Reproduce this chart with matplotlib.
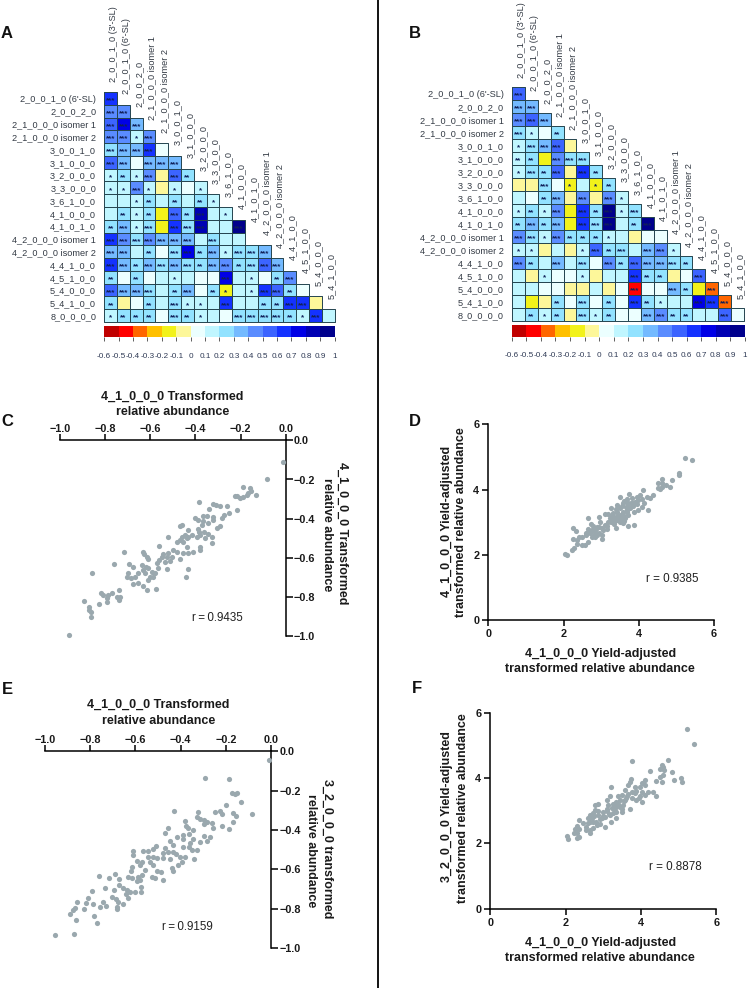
import numpy as np
import matplotlib
matplotlib.use("Agg")
import matplotlib.pyplot as plt
from matplotlib.colors import ListedColormap, BoundaryNorm

plt.rcParams['font.family'] = ['Liberation Sans', 'DejaVu Sans']

W, H = 749, 988

col_labels = ["2_0_0_1_0 (3'-SL)", "2_0_0_1_0 (6'-SL)", "2_0_0_2_0", "2_1_0_0_0 isomer 1", "2_1_0_0_0 isomer 2",
              "3_0_0_1_0", "3_1_0_0_0", "3_2_0_0_0", "3_3_0_0_0", "3_6_1_0_0", "4_1_0_0_0", "4_1_0_1_0",
              "4_2_0_0_0 isomer 1", "4_2_0_0_0 isomer 2", "4_4_1_0_0", "4_5_1_0_0", "5_4_0_0_0", "5_4_1_0_0"]
row_labels = ["2_0_0_1_0 (6'-SL)", "2_0_0_2_0", "2_1_0_0_0 isomer 1", "2_1_0_0_0 isomer 2", "3_0_0_1_0", "3_1_0_0_0",
              "3_2_0_0_0", "3_3_0_0_0", "3_6_1_0_0", "4_1_0_0_0", "4_1_0_1_0", "4_2_0_0_0 isomer 1",
              "4_2_0_0_0 isomer 2", "4_4_1_0_0", "4_5_1_0_0", "5_4_0_0_0", "5_4_1_0_0", "8_0_0_0_0"]
cbar_bounds = [-0.6, -0.5, -0.4, -0.3, -0.2, -0.1, 0, 0.1, 0.2, 0.3, 0.4, 0.5, 0.6, 0.7, 0.8, 0.9, 1]
cbar_labels = ['-0.6', '-0.5', '-0.4', '-0.3', '-0.2', '-0.1', '0', '0.1', '0.2', '0.3',
               '0.4', '0.5', '0.6', '0.7', '0.8', '0.9', '1']
cbar_colors = ['#c00000', '#ff0000', '#ff6600', '#ffc000', '#f2f21a', '#fdf79a', '#ecffff', '#c0f6ff', '#92e2ff',
               '#74baff', '#5a8cff', '#3c64ff', '#1432ff', '#0000e6', '#0000b4', '#00008c']

corr_a = [
    [.65],
    [.45, .45],
    [.55, .75, .35],
    [.4, .4, .15, .4],
    [.25, .35, .35, .65, .05],
    [.5, .35, .05, .35, .35, .3],
    [.15, .2, .15, .4, -.05, .5, .25],
    [.15, .15, .4, .15, -.05, .15, .05, .15],
    [.15, .1, .15, .25, .1, .25, .1, .25, .15],
    [.1, .25, .15, .2, -.15, .55, .25, .85, .15, .15],
    [.25, .35, .15, .2, -.15, .6, .25, .85, .15, .15, .9],
    [.6, .45, .2, .45, .35, .35, .35, .15, .25, .1, .15],
    [.35, .35, .15, .2, .05, .2, .7, .2, .35, .15, .2, .2, .35],
    [.6, .35, .2, .35, .25, .3, .25, .2, .3, .4, .2, .25, .5, .35],
    [.2, .05, .2, .05, .1, .15, .1, .05, .05, .7, .1, .15, .05, .2, .45],
    [.5, .35, .3, .25, .1, .2, .35, .05, .2, -.15, .1, .15, .6, .5, .2, .05],
    [.2, -.05, .05, .2, .1, .25, .15, .15, .1, .65, .1, .1, .2, .2, .65, .65, -.05],
    [.15, .2, .2, .2, .05, .25, .2, .15, .1, .05, .25, .25, .25, .25, .2, .15, .6, .1],
]
stars_a = [
    [3],
    [3, 3],
    [3, 3, 3],
    [3, 3, 1, 3],
    [3, 3, 3, 3, 0],
    [3, 3, 0, 3, 3, 3],
    [1, 2, 1, 3, 0, 3, 2],
    [1, 1, 3, 1, 0, 1, 0, 1],
    [0, 0, 1, 2, 0, 2, 0, 2, 1],
    [0, 2, 1, 2, 0, 3, 2, 3, 0, 1],
    [2, 3, 1, 3, 0, 3, 3, 3, 0, 0, 3],
    [3, 3, 3, 3, 3, 3, 3, 0, 3, 0, 0],
    [3, 3, 0, 2, 0, 3, 3, 2, 3, 1, 3, 3, 3],
    [3, 3, 2, 3, 3, 3, 3, 2, 3, 3, 2, 3, 3, 3],
    [2, 0, 2, 0, 0, 1, 0, 0, 0, 3, 0, 1, 0, 2, 3],
    [3, 3, 3, 3, 0, 2, 3, 0, 2, 1, 0, 1, 3, 3, 2, 0],
    [2, 0, 0, 2, 0, 3, 1, 1, 0, 3, 0, 0, 2, 2, 3, 3, 0],
    [1, 2, 2, 2, 0, 3, 2, 1, 0, 0, 3, 3, 3, 3, 2, 1, 3, 0],
]
corr_b = [
    [.55],
    [.35, .35],
    [.45, .55, .35],
    [.25, .15, .05, .25],
    [.15, .25, .35, .5, -.05],
    [.15, .2, -.15, .4, .2, .2],
    [.15, .25, .2, .5, -.05, .65, .25],
    [-.05, -.05, .25, .05, -.15, .15, -.15, .25],
    [.15, .05, .25, .3, -.05, .45, -.05, .45, .15],
    [.15, .2, .15, .4, -.15, .65, .25, .9, .15, .25],
    [.2, .35, .2, .35, -.15, .65, .25, .9, .15, .2, .95],
    [.4, .25, .15, .4, .25, .2, .2, .15, .1, -.05, .05, .05],
    [.15, .15, -.05, .15, -.05, .15, .5, .2, .25, .1, .3, .4, .15],
    [.4, .2, .1, .35, .1, .25, .05, .4, .2, .55, .35, .3, .25, .2],
    [.1, -.05, .15, .05, .05, .15, -.05, .15, .1, .65, .2, .2, -.05, .05, .5],
    [.15, .15, .05, .05, -.05, -.05, .15, -.05, .05, -.45, .05, .05, .35, .25, -.15, -.35],
    [.15, -.15, -.05, .2, .05, .25, .05, .2, .05, .65, .2, .15, .1, .1, .7, .65, -.35],
    [.1, .2, .15, .2, -.05, .25, .15, .2, .05, .05, .35, .4, .2, .2, .1, .1, .5, .05],
]
stars_b = [
    [3],
    [3, 3],
    [3, 3, 3],
    [3, 1, 0, 2],
    [1, 3, 3, 3, 0],
    [2, 2, 0, 3, 3, 3],
    [1, 3, 2, 3, 0, 3, 2],
    [0, 0, 3, 0, 1, 0, 1, 2],
    [0, 0, 2, 3, 0, 3, 0, 3, 1],
    [1, 2, 1, 3, 0, 3, 2, 3, 1, 3],
    [2, 3, 2, 3, 0, 3, 3, 3, 0, 2, 3],
    [3, 3, 1, 3, 2, 2, 2, 1, 0, 0, 0, 0],
    [1, 1, 0, 0, 0, 1, 3, 2, 3, 0, 3, 3, 1],
    [3, 2, 0, 3, 0, 3, 0, 3, 2, 3, 3, 3, 3, 2],
    [0, 0, 1, 0, 0, 1, 0, 0, 0, 3, 2, 2, 0, 0, 3],
    [0, 0, 0, 0, 0, 0, 0, 0, 0, 3, 0, 0, 3, 2, 0, 3],
    [0, 0, 0, 2, 0, 3, 0, 2, 0, 3, 2, 1, 0, 0, 3, 3, 3],
    [0, 2, 1, 2, 0, 3, 1, 2, 0, 0, 3, 3, 2, 2, 0, 0, 3, 0],
]

c_x = [-.01, -.084, -.188, -.158, -.155, -.133, -.165, -.173, -.188, -.202, -.225, -.214, -.383, -.323, -.309, -.291,
       -.338, -.258, -.217, -.25, -.273, -.284, -.32, -.347, -.368, -.402, -.387, -.365, -.32, -.343, -.372, -.291,
       -.303, -.468, -.458, -.39, -.434, -.523, -.383, -.362, -.343, -.328, -.328, -.357, -.38, -.394, -.417, -.431,
       -.446, -.461, -.468, -.483, -.453, -.439, -.56, -.439, -.38, -.38, -.412, -.431, -.456, -.483, -.498, -.52,
       -.542, -.527, -.505, -.55, -.468, -.561, -.572, -.535, -.513, -.527, -.564, -.716, -.634, -.628, -.616, -.609,
       -.638, -.619, -.631, -.609, -.594, -.579, -.623, -.601, -.612, -.586, -.434, -.443, -.761, -.693, -.678, -.656,
       -.697, -.702, -.687, -.668, -.675, -.653, -.634, -.616, -.576, -.858, -.737, -.749, -.734, -.737, -.771, -.786,
       -.79, -.793, -.808, -.82, -.829, -.892, -.871, -.87, -.864, -.864, -.959]
c_y = [-.11, -.2, -.236, -.245, -.257, -.277, -.267, -.279, -.287, -.296, -.284, -.284, -.316, -.325, -.33, -.333,
       -.35, -.335, -.355, -.369, -.381, -.398, -.389, -.386, -.386, -.395, -.406, -.412, -.406, -.423, -.432, -.437,
       -.449, -.435, -.432, -.454, -.457, -.495, -.466, -.466, -.478, -.491, -.526, -.5, -.483, -.491, -.483, -.491,
       -.483, -.491, -.509, -.517, -.517, -.5, -.539, -.543, -.543, -.56, -.57, -.573, -.573, -.568, -.56, -.573,
       -.582, -.594, -.594, -.597, -.607, -.611, -.628, -.619, -.616, -.658, -.653, -.571, -.568, -.582, -.594, -.607,
       -.636, -.645, -.662, -.653, -.67, -.679, -.679, -.696, -.713, -.696, -.656, -.696, -.633, -.633, -.645, -.679,
       -.679, -.696, -.704, -.696, -.733, -.73, -.741, -.764, -.757, -.679, -.764, -.801, -.798, -.815, -.781, -.789,
       -.806, -.823, -.789, -.781, -.837, -.818, -.849, -.866, -.874, -.903, -.993]

e_x = [-.007, -.292, -.187, -.171, -.159, -.152, -.131, -.083, -.201, -.226, -.248, -.218, -.167, -.155, -.167, -.184,
       -.217, -.428, -.324, -.326, -.314, -.296, -.285, -.263, -.258, -.296, -.381, -.376, -.366, -.344, -.457, -.467,
       -.417, -.388, -.391, -.361, -.296, -.27, -.285, -.314, -.344, -.358, -.447, -.432, -.361, -.351, -.329, -.388,
       -.509, -.521, -.543, -.565, -.609, -.609, -.469, -.454, -.432, -.476, -.42, -.403, -.38, -.339, -.543, -.521,
       -.506, -.476, -.447, -.395, -.41, -.594, -.572, -.535, -.521, -.58, -.617, -.619, -.558, -.506, -.488, -.44,
       -.435, -.569, -.587, -.631, -.617, -.528, -.513, -.476, -.58, -.594, -.76, -.715, -.69, -.673, -.674, -.735,
       -.695, -.656, -.639, -.624, -.602, -.577, -.577, -.642, -.631, -.791, -.808, -.857, -.819, -.789, -.757, -.742,
       -.73, -.702, -.686, -.676, -.656, -.68, -.68, -.867, -.875, -.826, -.891, -.782, -.863, -.768, -.87, -.956]
e_y = [-.042, -.136, -.142, -.214, -.217, -.214, -.256, -.32, -.273, -.302, -.308, -.319, -.312, -.329, -.358, -.395,
       -.38, -.302, -.307, -.332, -.346, -.349, -.358, -.366, -.392, -.371, -.354, -.378, -.392, -.4, -.392, -.417,
       -.434, -.425, -.447, -.42, -.429, -.434, -.454, -.459, -.447, -.468, -.456, -.476, -.485, -.502, -.502, -.488,
       -.48, -.498, -.505, -.505, -.505, -.527, -.493, -.51, -.51, -.519, -.522, -.536, -.536, -.549, -.536, -.536,
       -.544, -.544, -.547, -.561, -.578, -.558, -.561, -.561, -.578, -.578, -.586, -.607, -.603, -.608, -.615, -.595,
       -.607, -.629, -.637, -.637, -.646, -.641, -.642, -.654, -.654, -.658, -.634, -.644, -.625, -.651, -.68, -.693,
       -.705, -.693, -.705, -.714, -.714, -.688, -.714, -.725, -.747, -.708, -.747, -.764, -.773, -.778, -.79, -.764,
       -.785, -.742, -.751, -.764, -.778, -.79, -.802, -.798, -.807, -.802, -.829, -.837, -.859, -.871, -.929, -.936]

d_x = [5.23, 5.41, 5.07, 5.07, 4.63, 4.5, 4.63, 4.88, 4.72, 4.83, 4.61, 4.52, 4.57, 4.1, 4.39, 4.3, 3.74, 3.5, 4.03,
       3.95, 3.81, 3.68, 4.21, 4.08, 3.99, 3.9, 3.81, 3.71, 3.59, 3.41, 3.26, 4.24, 4.08, 3.99, 3.86, 3.77, 3.68, 3.59,
       3.5, 3.41, 3.32, 3.19, 3.1, 2.94, 2.64, 3.72, 3.59, 3.5, 3.41, 3.32, 3.24, 3.63, 3.55, 3.46, 3.37, 3.28, 3.17,
       2.97, 3.72, 3.86, 3.59, 3.39, 3.15, 3.15, 2.73, 2.79, 2.88, 3.01, 2.26, 2.33, 2.66, 2.75, 2.84, 2.93, 3.01, 3.03,
       2.7, 2.59, 2.5, 2.41, 2.26, 2.35, 2.75, 2.84, 2.66, 2.57, 2.5, 2.35, 2.28, 2.22, 2.04, 2.08, 3.3, 3.45, 3.55,
       3.62, 3.4, 3.5, 3.35, 3.25, 3.1, 3.05, 2.95, 2.85, 2.9, 2.8, 2.7, 2.6, 3.7, 3.85, 3.95, 4.15, 3.55, 3.65, 3.8,
       3.4, 3.6, 3.7]
d_y = [4.96, 4.9, 4.5, 4.45, 4.31, 4.19, 4.19, 4.29, 4.14, 4.09, 4.09, 4.04, 4.01, 3.99, 3.83, 3.73, 3.86, 3.78, 3.83,
       3.78, 3.73, 3.7, 3.78, 3.7, 3.68, 3.63, 3.58, 3.56, 3.58, 3.53, 3.43, 3.37, 3.46, 3.37, 3.32, 3.43, 3.37, 3.32,
       3.43, 3.32, 3.27, 3.25, 3.25, 3.17, 3.13, 3.22, 3.22, 3.22, 3.19, 3.15, 3.12, 3.12, 3.09, 3.07, 3.05, 3.02, 2.99,
       2.99, 2.88, 2.9, 2.97, 2.83, 2.88, 2.78, 2.94, 2.88, 2.84, 2.81, 2.81, 2.73, 2.78, 2.76, 2.71, 2.68, 2.61, 2.47,
       2.66, 2.61, 2.56, 2.54, 2.47, 2.45, 2.54, 2.56, 2.4, 2.3, 2.3, 2.33, 2.2, 2.15, 2.01, 1.99, 3.18, 3.15, 3.2,
       3.05, 3.1, 3.0, 2.95, 3.0, 2.9, 2.75, 2.85, 2.8, 2.62, 2.6, 2.72, 2.66, 3.3, 3.5, 3.55, 3.6, 3.48, 3.45, 3.6,
       3.4, 3.65, 3.62]

f_x = [5.22, 5.41, 3.77, 4.73, 4.24, 4.55, 4.59, 4.5, 4.62, 4.83, 4.59, 4.5, 4.39, 4.57, 4.88, 5.06, 5.08, 3.73, 3.71,
       3.2, 4.12, 4.02, 3.97, 4.11, 3.66, 3.84, 3.58, 3.75, 3.88, 4.02, 4.19, 4.33, 4.39, 4.11, 3.97, 4.02, 3.88, 3.75,
       3.62, 3.49, 3.4, 3.18, 3.09, 2.87, 2.78, 3.58, 3.44, 3.35, 3.27, 3.13, 3.71, 3.53, 3.44, 3.35, 3.22, 3.09, 3.0,
       2.78, 2.73, 2.65, 2.87, 3.49, 3.35, 3.27, 3.18, 3.04, 2.96, 3.35, 3.2, 3.04, 2.35, 2.47, 2.6, 2.69, 2.73, 2.6,
       2.53, 2.82, 2.73, 2.65, 2.65, 2.29, 2.25, 2.35, 2.22, 2.29, 2.3, 2.35, 2.03, 2.07, 3.1, 3.0, 2.9, 3.15, 3.3, 3.4,
       3.55, 3.65, 2.85, 2.75, 2.65, 2.8, 2.55, 2.9, 3.5, 3.6, 3.85, 3.95]
f_y = [5.51, 5.05, 4.53, 4.55, 4.22, 4.4, 4.33, 4.28, 4.24, 4.19, 4.09, 4.04, 3.91, 3.88, 3.93, 3.99, 3.89, 3.98, 3.89,
       3.72, 3.94, 3.84, 3.73, 3.79, 3.79, 3.73, 3.63, 3.58, 3.61, 3.58, 3.58, 3.58, 3.45, 3.48, 3.45, 3.28, 3.33, 3.38,
       3.45, 3.48, 3.45, 3.45, 3.33, 3.2, 3.17, 3.33, 3.33, 3.28, 3.22, 3.17, 3.04, 3.17, 3.12, 3.1, 3.07, 3.04, 2.97,
       3.02, 2.92, 2.87, 2.87, 2.97, 2.97, 2.92, 2.87, 2.82, 2.77, 2.77, 2.66, 2.51, 2.71, 2.63, 2.77, 2.77, 2.66, 2.61,
       2.51, 2.56, 2.46, 2.41, 2.31, 2.53, 2.43, 2.43, 2.31, 2.31, 2.17, 2.2, 2.22, 2.14, 3.0, 2.85, 2.75, 2.9, 3.0, 3.2,
       3.3, 3.5, 3.0, 2.85, 2.65, 2.65, 2.4, 2.6, 3.05, 3.4, 3.55, 3.4]

neg_ticks = [-1.0, -0.8, -0.6, -0.4, -0.2, 0.0]
neg_labels = ['\u22121.0', '\u22120.8', '\u22120.6', '\u22120.4', '\u22120.2', '0.0']
pos_ticks = [0, 2, 4, 6]

DOT = '#9aa8ae'
INK = '#1a1a1a'
HM_TXT = '#333a44'

fig = plt.figure(figsize=(W / 100, H / 100), dpi=100)


def axes_px(left, top, right, bottom):
    return fig.add_axes([left / W, 1 - bottom / H, (right - left) / W, (bottom - top) / H])


def txt(x, y, s, **kw):
    kw.setdefault('ha', 'center')
    kw.setdefault('va', 'center')
    fig.text(x / W, 1 - y / H, s, **kw)


cmap = ListedColormap(cbar_colors)
norm = BoundaryNorm(cbar_bounds, cmap.N)


def heatmap(left, top, right, bottom, cb_top, cb_bottom, cb_left, cb_right, corr, stars, lab_gap):
    ax = axes_px(left, top, right, bottom)
    n = len(row_labels)
    for i, row in enumerate(corr):
        ax.pcolormesh(np.arange(len(row) + 1), [i, i + 1], np.array([row]), cmap=cmap, norm=norm,
                      edgecolors='#24444f', linewidth=0.7, antialiased=True, clip_on=False)
    ax.set_xlim(0, n)
    ax.set_ylim(n, 0)
    for s in ax.spines.values():
        s.set_visible(False)
    ax.patch.set_alpha(0)
    ax.set_xticks([])
    ax.set_yticks(np.arange(n) + 0.5)
    ax.set_yticklabels(row_labels, fontsize=6.6, color=HM_TXT)
    ax.tick_params(axis='y', length=0, pad=5.8)
    for i, row in enumerate(stars):
        for j, k in enumerate(row):
            if k:
                ax.annotate('*' * k, (j + 0.5, i + 0.5), xytext=(0, -1.8), textcoords='offset points', ha='center',
                            va='center', fontsize=5.8, color='#10205a', fontweight='bold')
    for j, lab in enumerate(col_labels):
        ax.annotate(lab, (j + 0.5, j), xytext=(2.0, lab_gap), textcoords='offset points', rotation=90, ha='center',
                    va='bottom', fontsize=6.6, color=HM_TXT, annotation_clip=False)
    cb = axes_px(cb_left, cb_top, cb_right, cb_bottom)
    cb.pcolormesh(cbar_bounds, [0, 1], np.array([[(a + b) / 2 for a, b in zip(cbar_bounds, cbar_bounds[1:])]]),
                  cmap=cmap, norm=norm)
    cb.set_yticks([])
    cb.set_xticks(cbar_bounds)
    cb.set_xticklabels(cbar_labels, fontsize=5.9, color='#2f3a55')
    cb.tick_params(axis='x', length=3, width=0.6, pad=7.8, color='#444444')
    for s in cb.spines.values():
        s.set_visible(False)


heatmap(104.2, 92, 334.7, 322, 326, 337.5, 104.2, 334.7, corr_a, stars_a, 7.5)
heatmap(512, 87, 744, 320.7, 325, 337, 511.7, 745, corr_b, stars_b, 6.5)


def neg_panel(left, top, right, bottom, x, y):
    ax = axes_px(left, top, right, bottom)
    ax.scatter(x, y, s=14, color=DOT, linewidths=0, clip_on=False, zorder=3)
    ax.set_xlim(-1, 0)
    ax.set_ylim(-1, 0)
    ax.xaxis.tick_top()
    ax.yaxis.tick_right()
    ax.spines['left'].set_visible(False)
    ax.spines['bottom'].set_visible(False)
    ax.spines['top'].set_linewidth(1.1)
    ax.spines['right'].set_linewidth(1.1)
    ax.set_xticks(neg_ticks)
    ax.set_xticklabels(neg_labels, fontsize=7.8, fontweight='bold', color=INK)
    ax.set_yticks(neg_ticks)
    ax.set_yticklabels(neg_labels, fontsize=7.8, fontweight='bold', color=INK)
    ax.tick_params(axis='x', length=4, width=1.1, pad=0.5)
    ax.tick_params(axis='y', length=5, width=1.1, pad=1)
    ax.patch.set_alpha(0)


def pos_panel(left, top, right, bottom, x, y):
    ax = axes_px(left, top, right, bottom)
    ax.scatter(x, y, s=14, color=DOT, linewidths=0, zorder=3)
    ax.set_xlim(0, 6)
    ax.set_ylim(0, 6)
    ax.spines['top'].set_visible(False)
    ax.spines['right'].set_visible(False)
    ax.spines['left'].set_linewidth(1.1)
    ax.spines['bottom'].set_linewidth(1.1)
    ax.set_xticks(pos_ticks)
    ax.set_yticks(pos_ticks)
    ax.set_xticklabels(pos_ticks, fontsize=7.8, fontweight='bold', color=INK)
    ax.set_yticklabels(pos_ticks, fontsize=7.8, fontweight='bold', color=INK)
    ax.tick_params(axis='both', length=4, width=1.1, pad=2.5)
    ax.patch.set_alpha(0)


neg_panel(60, 440.3, 285.7, 636.3, c_x, c_y)
neg_panel(45, 751.3, 271, 948, e_x, e_y)
pos_panel(488.3, 424.3, 714, 620, d_x, d_y)
pos_panel(490.3, 712.7, 716.3, 908.7, f_x, f_y)

LAB = dict(fontsize=9.0, fontweight='bold', color=INK)
R = dict(fontsize=8.4, color='#222222')

txt(172, 397, '4_1_0_0_0 Transformed', **LAB)
txt(173, 412, 'relative abundance', **LAB)
txt(342, 533, '4_1_0_0_0 Transformed', rotation=270, **LAB)
txt(327, 534.5, 'relative abundance', rotation=270, **LAB)
txt(217, 618, 'r\u2009=\u20090.9435', **R)

txt(158, 705, '4_1_0_0_0 Transformed', **LAB)
txt(159, 721, 'relative abundance', **LAB)
txt(327, 848.7, '3_2_0_0_0 transformed', rotation=270, **LAB)
txt(311, 851, 'relative abundance', rotation=270, **LAB)
txt(187, 926.7, 'r\u2009=\u20090.9159', **R)

txt(446.7, 521, '4_1_0_0_0 Yield-adjusted', rotation=90, **LAB)
txt(461, 522.5, 'transformed relative abundance', rotation=90, **LAB)
txt(601, 653.7, '4_1_0_0_0 Yield-adjusted', **LAB)
txt(600, 669, 'transformed relative abundance', **LAB)
txt(672.7, 578.7, 'r = 0.9385', **R)

txt(447, 806.7, '3_2_0_0_0 Yield-adjusted', rotation=90, **LAB)
txt(462.7, 808, 'transformed relative abundance', rotation=90, **LAB)
txt(601, 942.7, '4_1_0_0_0 Yield-adjusted', **LAB)
txt(600, 958, 'transformed relative abundance', **LAB)
txt(675.8, 867, 'r = 0.8878', **R)

for letter, x, y in [('A', 7, 34), ('B', 415, 34), ('C', 7, 422), ('D', 415, 422), ('E', 7, 689), ('F', 417, 688)]:
    txt(x, y, letter, fontsize=12, fontweight='bold', color='#111111')

fig.add_artist(plt.Line2D([378.5 / W, 378.5 / W], [0, 1], color='black', linewidth=1.3))

fig.savefig('out.png', dpi=100)
